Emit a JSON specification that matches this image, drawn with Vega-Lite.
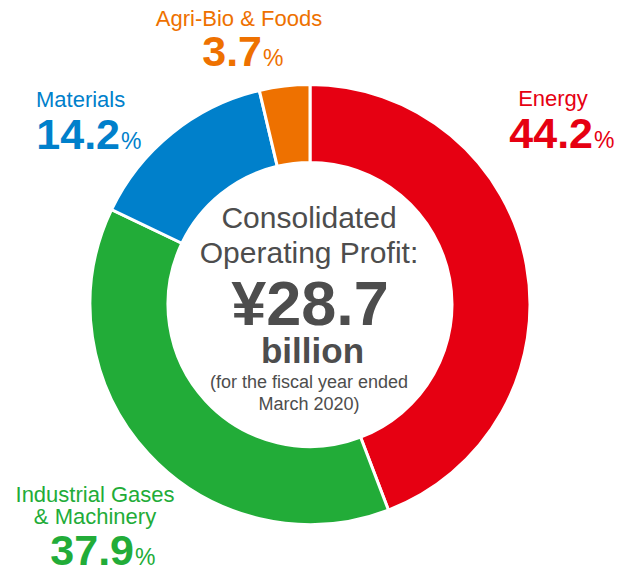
{
  "$schema": "https://vega.github.io/schema/vega-lite/v6.json",
  "width": 620,
  "height": 533,
  "autosize": {"type": "none"},
  "padding": {"left": 0, "top": 38, "right": 5, "bottom": 0},
  "background": "white",
  "config": {"view": {"stroke": null}, "text": {"font": "Liberation Sans"}},
  "datasets": {
    "segments": [
      {"segment": "Energy", "name": "Energy", "share": 44.2, "rank": 1},
      {"segment": "Industrial Gases & Machinery", "name": "Industrial Gases\n& Machinery", "share": 37.9, "rank": 2},
      {"segment": "Materials", "name": "Materials", "share": 14.2, "rank": 3},
      {"segment": "Agri-Bio & Foods", "name": "Agri-Bio & Foods", "share": 3.7, "rank": 4}
    ],
    "total": [
      {"title": "Consolidated\nOperating Profit:", "amount": 28.7, "unit": "billion", "note": "(for the fiscal year ended\nMarch 2020)"}
    ]
  },
  "layer": [
    {
      "data": {"name": "segments"},
      "mark": {"type": "arc", "radius": 220, "radius2": 142, "stroke": "white", "strokeWidth": 3},
      "encoding": {
        "theta": {"field": "share", "type": "quantitative", "stack": true},
        "order": {"field": "rank", "type": "quantitative"},
        "color": {
          "field": "segment", "type": "nominal", "legend": null,
          "scale": {
            "domain": ["Energy", "Industrial Gases & Machinery", "Materials", "Agri-Bio & Foods"],
            "range": ["#E60012", "#22AC38", "#0080CB", "#EE7100"]
          }
        }
      }
    },
    {
      "data": {"name": "segments"},
      "transform": [{"filter": "datum.segment === 'Energy'"}],
      "mark": {"type": "text", "align": "center", "baseline": "alphabetic", "fontSize": 22, "dx": 243, "dy": -198.5},
      "encoding": {"text": {"field": "name", "type": "nominal"}, "color": {"field": "segment", "type": "nominal", "legend": null}}
    },
    {
      "data": {"name": "segments"},
      "transform": [{"filter": "datum.segment === 'Energy'"}],
      "mark": {"type": "text", "align": "right", "baseline": "alphabetic", "fontSize": 43, "fontWeight": "bold", "dx": 283, "dy": -156.5},
      "encoding": {"text": {"field": "share", "type": "quantitative", "format": ".1f"}, "color": {"field": "segment", "type": "nominal", "legend": null}}
    },
    {
      "data": {"name": "segments"},
      "transform": [{"filter": "datum.segment === 'Energy'"}],
      "mark": {"type": "text", "align": "left", "baseline": "alphabetic", "fontSize": 23, "text": "%", "dx": 284, "dy": -156.5},
      "encoding": {"color": {"field": "segment", "type": "nominal", "legend": null}}
    },
    {
      "data": {"name": "segments"},
      "transform": [{"filter": "datum.segment === 'Industrial Gases & Machinery'"}],
      "mark": {"type": "text", "align": "center", "baseline": "alphabetic", "fontSize": 22, "lineBreak": "\n", "lineHeight": 22, "dx": -215, "dy": 197.5},
      "encoding": {"text": {"field": "name", "type": "nominal"}, "color": {"field": "segment", "type": "nominal", "legend": null}}
    },
    {
      "data": {"name": "segments"},
      "transform": [{"filter": "datum.segment === 'Industrial Gases & Machinery'"}],
      "mark": {"type": "text", "align": "right", "baseline": "alphabetic", "fontSize": 43, "fontWeight": "bold", "dx": -176, "dy": 260.5},
      "encoding": {"text": {"field": "share", "type": "quantitative", "format": ".1f"}, "color": {"field": "segment", "type": "nominal", "legend": null}}
    },
    {
      "data": {"name": "segments"},
      "transform": [{"filter": "datum.segment === 'Industrial Gases & Machinery'"}],
      "mark": {"type": "text", "align": "left", "baseline": "alphabetic", "fontSize": 23, "text": "%", "dx": -175, "dy": 260.5},
      "encoding": {"color": {"field": "segment", "type": "nominal", "legend": null}}
    },
    {
      "data": {"name": "segments"},
      "transform": [{"filter": "datum.segment === 'Materials'"}],
      "mark": {"type": "text", "align": "left", "baseline": "alphabetic", "fontSize": 22, "dx": -274, "dy": -197.5},
      "encoding": {"text": {"field": "name", "type": "nominal"}, "color": {"field": "segment", "type": "nominal", "legend": null}}
    },
    {
      "data": {"name": "segments"},
      "transform": [{"filter": "datum.segment === 'Materials'"}],
      "mark": {"type": "text", "align": "right", "baseline": "alphabetic", "fontSize": 43, "fontWeight": "bold", "dx": -190, "dy": -155.5},
      "encoding": {"text": {"field": "share", "type": "quantitative", "format": ".1f"}, "color": {"field": "segment", "type": "nominal", "legend": null}}
    },
    {
      "data": {"name": "segments"},
      "transform": [{"filter": "datum.segment === 'Materials'"}],
      "mark": {"type": "text", "align": "left", "baseline": "alphabetic", "fontSize": 23, "text": "%", "dx": -189, "dy": -155.5},
      "encoding": {"color": {"field": "segment", "type": "nominal", "legend": null}}
    },
    {
      "data": {"name": "segments"},
      "transform": [{"filter": "datum.segment === 'Agri-Bio & Foods'"}],
      "mark": {"type": "text", "align": "center", "baseline": "alphabetic", "fontSize": 22, "dx": -71, "dy": -278.5},
      "encoding": {"text": {"field": "name", "type": "nominal"}, "color": {"field": "segment", "type": "nominal", "legend": null}}
    },
    {
      "data": {"name": "segments"},
      "transform": [{"filter": "datum.segment === 'Agri-Bio & Foods'"}],
      "mark": {"type": "text", "align": "right", "baseline": "alphabetic", "fontSize": 43, "fontWeight": "bold", "dx": -48, "dy": -238.5},
      "encoding": {"text": {"field": "share", "type": "quantitative", "format": ".1f"}, "color": {"field": "segment", "type": "nominal", "legend": null}}
    },
    {
      "data": {"name": "segments"},
      "transform": [{"filter": "datum.segment === 'Agri-Bio & Foods'"}],
      "mark": {"type": "text", "align": "left", "baseline": "alphabetic", "fontSize": 23, "text": "%", "dx": -47, "dy": -238.5},
      "encoding": {"color": {"field": "segment", "type": "nominal", "legend": null}}
    },
    {
      "data": {"name": "total"},
      "mark": {"type": "text", "align": "center", "baseline": "alphabetic", "fontSize": 30, "lineBreak": "\n", "lineHeight": 35, "color": "#4D4D4D", "dx": -1, "dy": -76.5},
      "encoding": {"text": {"field": "title", "type": "nominal"}}
    },
    {
      "data": {"name": "total"},
      "transform": [{"calculate": "'¥' + format(datum.amount, '.1f')", "as": "amountLabel"}],
      "mark": {"type": "text", "align": "center", "baseline": "alphabetic", "fontSize": 63, "fontWeight": "bold", "color": "#4D4D4D", "dx": 0, "dy": 20.5},
      "encoding": {"text": {"field": "amountLabel", "type": "nominal"}}
    },
    {
      "data": {"name": "total"},
      "mark": {"type": "text", "align": "center", "baseline": "alphabetic", "fontSize": 35, "fontWeight": "bold", "color": "#4D4D4D", "dx": 2.5, "dy": 58.5},
      "encoding": {"text": {"field": "unit", "type": "nominal"}}
    },
    {
      "data": {"name": "total"},
      "mark": {"type": "text", "align": "center", "baseline": "alphabetic", "fontSize": 18, "lineBreak": "\n", "lineHeight": 22, "color": "#4D4D4D", "dx": -1, "dy": 83.5},
      "encoding": {"text": {"field": "note", "type": "nominal"}}
    }
  ]
}
